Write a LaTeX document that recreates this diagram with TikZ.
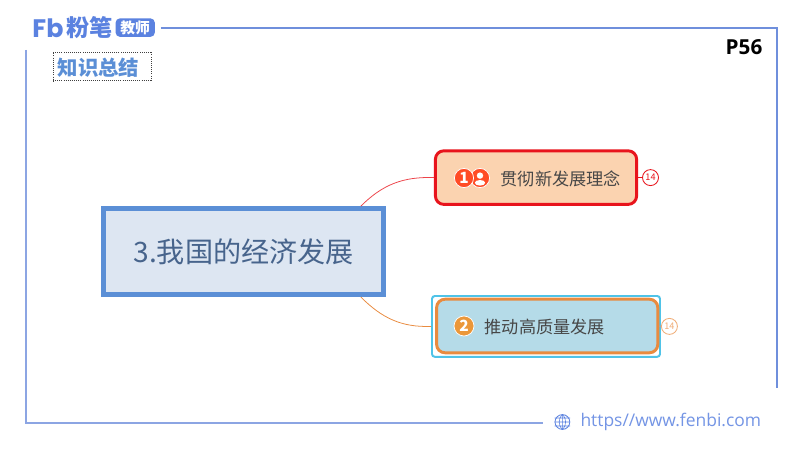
\documentclass[tikz,border=0pt]{standalone}
\usepackage{fontspec}
\setmainfont{Noto Sans CJK SC}
\newfontfamily\latinfont{Open Sans}
\newfontfamily\logofont{Poppins}
\usetikzlibrary{positioning}
\definecolor{frameblue}{HTML}{6F8FDC}
\definecolor{logoblue}{HTML}{5B82E0}
\definecolor{rootblue}{HTML}{5B8FD6}
\definecolor{rootfill}{HTML}{DDE6F2}
\definecolor{roottext}{HTML}{47648C}
\definecolor{peach}{HTML}{FBD3B0}
\definecolor{redline}{HTML}{E8141C}
\definecolor{lakeblue}{HTML}{B5DBE8}
\definecolor{orangeline}{HTML}{E98B3F}
\definecolor{halocyan}{HTML}{4FC3E8}
\tikzset{
  frameline/.style={line width=1.4pt,frameblue},
  rootbox/.style={draw=rootblue,fill=rootfill,line width=3.5pt,minimum width=7cm,minimum height=2.15cm,inner sep=0pt,text=roottext,font=\fontsize{20}{20}\selectfont},
  leafbox/.style={rounded corners=6pt,line width=2.1pt,inner sep=0pt,minimum height=1.34cm},
  leaftext/.style={inner sep=0pt,text=black!72,font=\fontsize{12.2}{12.2}\selectfont},
  badge/.style={circle,draw=white,line width=.5pt,minimum size=.48cm,inner sep=0pt,text=white,font=\fontsize{11}{11}\selectfont\bfseries},
  countdot/.style={circle,draw=#1,fill=white,line width=.6pt,minimum size=.4cm,inner sep=0pt,text=#1,font=\fontsize{6.5}{6.5}\selectfont},
}
\begin{document}
\begin{tikzpicture}
  \useasboundingbox[fill=white] (0,0) rectangle (20,11.25);
  % frame
  \coordinate (topstart) at (4.02,10.55);
  \coordinate (topright) at (19.42,10.55);
  \coordinate (rightend) at (19.42,1.55);
  \coordinate (leftstart) at (.65,10);
  \coordinate (leftcorner) at (.65,.67);
  \coordinate (bottomend) at (13.58,.67);
  \draw[frameline] (topstart)--(topright)--(rightend);
  \draw[frameline,frameblue!80] (leftstart)--(leftcorner)--(bottomend);
  % logo
  \node[inner sep=0pt,text=logoblue,font=\logofont\fontsize{18}{18}\selectfont\bfseries] (logofb) at (1.2,10.55) {Fb};
  \node[inner sep=0pt,text=logoblue,font=\fontsize{16.5}{16.5}\selectfont\bfseries] (logoname) at (2.24,10.55) {粉笔};
  \node[fill=logoblue,rounded corners=3pt,minimum width=.98cm,minimum height=.46cm,inner sep=0pt,text=white,font=\fontsize{10.5}{10.5}\selectfont\bfseries] (logotag) at (3.38,10.56) {教师};
  % title
  \node[draw=black!75,densely dotted,line width=.5pt,minimum width=2.47cm,minimum height=.72cm,inner sep=0pt] (title) at (2.56,9.59) {};
  \node[inner sep=0pt,text=rootblue,font=\fontsize{14.5}{14.5}\selectfont\bfseries] (titletext) at (2.46,9.56) {知识总结};
  \node[inner sep=0pt,font=\latinfont\fontsize{14.7}{14.7}\selectfont\bfseries] (page) at (18.6,10.07) {P56};
  % mind map
  \node[rootbox] (root) at (6.09,4.96) {\raisebox{-1.5pt}{3.我国的经济发展}};
  \node[leafbox,draw=redline,fill=peach,minimum width=5.03cm] (idea) at (13.4,6.81) {};
  \node[leaftext] (ideatext) at (14.02,6.78) {贯彻新发展理念};
  \node[badge,fill=red!65!orange!85!white] (ideaperson) at (12,6.8) {};
  \node[badge,fill=red!65!orange!85!white] (ideabadge) at (11.6,6.8) {1};
  \fill[white] (ideaperson.center)++(0,.06) circle (.08);
  \fill[white] ([yshift=-.12cm]ideaperson.center) ellipse (.13 and .07);
  \node[countdot=redline,right=.1cm of idea] (ideacount) {14};
  \draw[redline,line width=.5pt] (idea.east)--(ideacount.west);
  \node[leafbox,draw=halocyan,line width=1.4pt,fill=white,rounded corners=2pt,minimum width=5.7cm,minimum height=1.52cm] (halo) at (13.65,3.09) {};
  \node[leafbox,draw=orangeline,fill=lakeblue,minimum width=5.53cm] (growth) at (13.68,3.1) {};
  \node[leaftext] (growthtext) at (13.62,3.07) {推动高质量发展};
  \node[badge,fill=orangeline!90!yellow,minimum size=.5cm] (growthbadge) at (11.6,3.1) {2};
  \node[countdot=orangeline!70,right=.0cm of halo] (growthcount) {14};
  \draw[black!35,line width=1pt] (growth.east)--(growthcount.west);
  \coordinate (ideastem) at ([xshift=-.63cm]root.north east);
  \coordinate (growthstem) at ([xshift=-.63cm]root.south east);
  \draw[redline!80!white,line width=.55pt] (ideastem) to[out=45,in=178] (idea.west);
  \draw[orangeline,line width=.55pt] (growthstem) to[out=-45,in=182] (halo.west);
  % footer
  \node[circle,draw=logoblue,line width=.6pt,minimum size=.37cm,inner sep=0pt] (globe) at (14.06,.7) {};
  \draw[logoblue,line width=.4pt] (globe.north)--(globe.south) (globe.west)--(globe.east)
    (globe.north) to[bend left=45] (globe.south) (globe.north) to[bend right=45] (globe.south)
    ([yshift=.1cm]globe.west)--([yshift=.1cm]globe.east) ([yshift=-.1cm]globe.west)--([yshift=-.1cm]globe.east);
  \node[inner sep=0pt,anchor=west,text=logoblue!85!white,font=\latinfont\fontsize{12.4}{12.4}\selectfont,right=.25cm of globe] (site) {https//www.fenbi.com};
\end{tikzpicture}
\end{document}
